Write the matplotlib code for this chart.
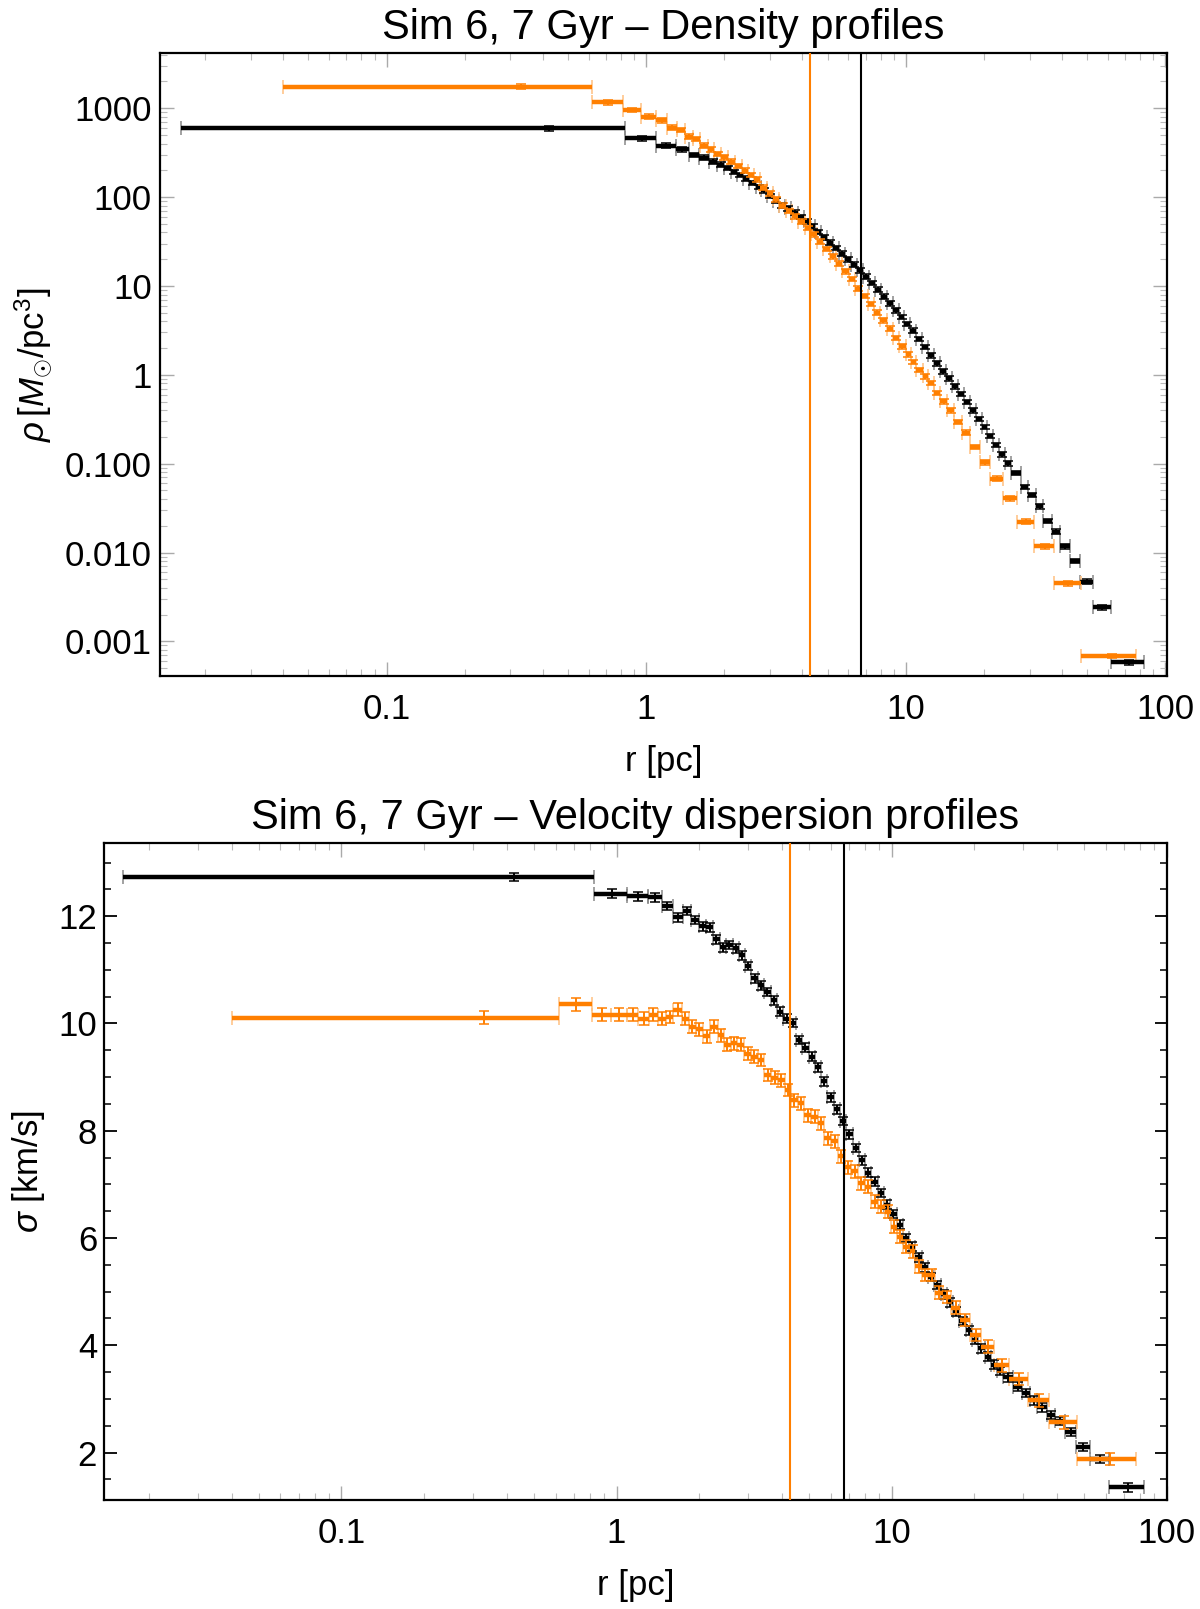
import numpy as np
import matplotlib
matplotlib.use('Agg')
import matplotlib.pyplot as plt
from matplotlib.ticker import FixedLocator, NullFormatter, LogLocator, MultipleLocator

plt.rcParams['font.family'] = ['Liberation Sans', 'DejaVu Sans']
plt.rcParams['mathtext.fontset'] = 'custom'
plt.rcParams['mathtext.rm'] = 'Liberation Sans'
plt.rcParams['mathtext.it'] = 'Liberation Sans:italic'
plt.rcParams['font.size'] = 25

ORANGE = '#ff7f00'

# bin edges in r [pc] (same binning for density and dispersion)
black_edges = [0.0161, 0.831, 1.092, 1.30, 1.458, 1.603, 1.74, 1.87, 2.0, 2.12, 2.24, 2.37,
               2.50, 2.64, 2.78, 2.93, 3.09, 3.26, 3.44, 3.63, 3.83, 4.04, 4.26, 4.49, 4.73,
               4.99, 5.26, 5.54, 5.84, 6.16, 6.49, 6.84, 7.21, 7.60, 8.01, 8.44, 8.90, 9.38,
               9.89, 10.42, 10.98, 11.58, 12.20, 12.86, 13.56, 14.29, 15.06, 15.88, 16.73,
               17.64, 18.59, 19.59, 20.65, 21.77, 22.95, 24.19, 25.50, 27.7, 29.7, 31.8,
               33.9, 36.7, 39.2, 42.8, 47.0, 52.6, 61.7, 83.0]
orange_edges = [0.040, 0.617, 0.812, 0.958, 1.092, 1.20, 1.31, 1.415, 1.51, 1.61, 1.725,
                1.83, 1.94, 2.06, 2.19, 2.33, 2.46, 2.60, 2.75, 2.91, 3.08, 3.26, 3.45, 3.65,
                3.86, 4.08, 4.31, 4.56, 4.82, 5.10, 5.39, 5.70, 6.03, 6.38, 6.75, 7.14, 7.55,
                7.98, 8.44, 8.93, 9.44, 9.98, 10.45, 10.96, 11.63, 12.2, 12.9, 13.55, 14.42,
                15.4, 16.5, 17.7, 19.3, 21.2, 23.6, 26.8, 31.3, 37.3, 47.3, 77.4]

# density [Msun/pc^3]
black_rho = [595, 460, 380, 346, 298, 278, 251, 232, 212, 192, 178, 161, 144, 130, 119, 103,
             91, 80, 75, 66.7, 59.7, 53.2, 47, 40.7, 35.4, 30.8, 26.7, 23.1, 20.0, 17.4, 15.0,
             12.7, 10.8, 9.1, 7.6, 6.4, 5.3, 4.47, 3.75, 3.15, 2.53, 2.05, 1.66, 1.35, 1.10,
             0.91, 0.745, 0.612, 0.495, 0.398, 0.320, 0.258, 0.205, 0.162, 0.128, 0.101,
             0.079, 0.055, 0.0445, 0.033, 0.0227, 0.0172, 0.0117, 0.00805, 0.00472, 0.00241,
             0.00058]
orange_rho = [1750, 1167, 958, 805, 727, 606, 571, 480, 449, 380, 346, 307, 281, 251, 225,
              198, 178, 158, 128, 110, 94, 80, 70, 61, 53, 45, 38, 31.5, 26, 21.5, 17.8, 14.6,
              12.0, 9.3, 7.7, 6.3, 5.0, 4.1, 3.3, 2.6, 2.1, 1.7, 1.40, 1.13, 0.96, 0.81, 0.628,
              0.505, 0.40, 0.296, 0.223, 0.155, 0.104, 0.0678, 0.0407, 0.0223, 0.0117,
              0.00449, 0.00069]

# velocity dispersion [km/s]
black_sig = [12.73, 12.42, 12.37, 12.35, 12.19, 11.98, 12.10, 11.93, 11.81, 11.79, 11.57,
             11.42, 11.46, 11.40, 11.27, 11.07, 10.84, 10.71, 10.59, 10.43, 10.22, 10.09,
             10.01, 9.69, 9.55, 9.38, 9.18, 8.92, 8.62, 8.40, 8.18, 7.93, 7.68, 7.45, 7.22,
             7.05, 6.84, 6.62, 6.45, 6.25, 6.00, 5.84, 5.64, 5.45, 5.27, 5.12, 4.95, 4.80,
             4.63, 4.45, 4.28, 4.10, 3.94, 3.79, 3.64, 3.52, 3.40, 3.23, 3.11, 2.97, 2.84,
             2.70, 2.59, 2.38, 2.10, 1.88, 1.35]
orange_sig = [10.11, 10.36, 10.16, 10.16, 10.16, 10.09, 10.16, 10.09, 10.12, 10.26, 10.09,
              9.94, 9.89, 9.76, 9.94, 9.78, 9.60, 9.63, 9.60, 9.44, 9.38, 9.32, 9.04, 8.99,
              8.94, 8.76, 8.57, 8.51, 8.29, 8.26, 8.14, 7.86, 7.80, 7.52, 7.32, 7.24, 7.02,
              6.96, 6.68, 6.58, 6.49, 6.21, 6.02, 5.84, 5.75, 5.47, 5.31, 5.31, 4.98, 4.90,
              4.70, 4.47, 4.19, 3.97, 3.63, 3.37, 2.97, 2.56, 1.88]

rho_rel_err = 0.06
black_sig_err = 0.08
orange_sig_err = 0.12

# half-mass radii (vertical lines)
r_orange = 4.29
r_black = 6.74


def draw_bins(ax, edges, vals, yerr, color, capcolor):
    edges = np.array(edges)
    vals = np.array(vals)
    lo, hi = edges[:-1], edges[1:]
    xc = 0.5 * (lo + hi)
    ax.plot(np.concatenate([lo, hi]), np.concatenate([vals, vals]), ls='none',
            marker='|', ms=10, mew=1.1, color=capcolor, zorder=2)
    ax.hlines(vals, lo, hi, color=color, lw=3.2, zorder=3)
    ax.errorbar(xc, vals, yerr=yerr, fmt='none', ecolor=color, elinewidth=1.4,
                capsize=3.5, capthick=1.1, zorder=3)


def style_axes(ax):
    for s in ax.spines.values():
        s.set_linewidth(1.6)
    ax.set_xscale('log')
    ax.xaxis.set_major_locator(FixedLocator([0.01, 0.1, 1, 10, 100]))
    ax.set_xticklabels(['0.01', '0.1', '1', '10', '100'])
    ax.xaxis.set_minor_locator(LogLocator(base=10, subs=np.arange(2, 10)))
    ax.xaxis.set_minor_formatter(NullFormatter())
    ax.tick_params(which='both', direction='in', top=True, right=True)
    ax.tick_params(axis='x', which='major', length=10, width=1, color='#aaaaaa', pad=12)
    ax.tick_params(axis='x', which='minor', length=5, width=0.8, color='#bbbbbb')
    ax.set_xlabel('r [pc]', labelpad=14)


fig = plt.figure(figsize=(12, 16.09), dpi=100)

# ---- density panel
ax1 = fig.add_axes([0.1333, 0.5799, 0.8392, 0.3870])
draw_bins(ax1, black_edges, black_rho, np.array(black_rho) * rho_rel_err, 'black', '#888888')
draw_bins(ax1, orange_edges, orange_rho, np.array(orange_rho) * rho_rel_err, ORANGE, '#ffc080')
ax1.axvline(r_orange, color=ORANGE, lw=1.5, zorder=4)
ax1.axvline(r_black, color='black', lw=1.5, zorder=4)
style_axes(ax1)
ax1.set_yscale('log')
ax1.yaxis.set_major_locator(FixedLocator([1e-3, 1e-2, 1e-1, 1, 10, 100, 1000]))
ax1.set_yticklabels(['0.001', '0.010', '0.100', '1', '10', '100', '1000'])
ax1.yaxis.set_minor_locator(LogLocator(base=10, subs=np.arange(2, 10)))
ax1.yaxis.set_minor_formatter(NullFormatter())
ax1.tick_params(axis='y', which='major', length=10, width=1, color='#aaaaaa', pad=6)
ax1.tick_params(axis='y', which='minor', length=5, width=0.8, color='#bbbbbb')
ax1.set_xlim(0.0134, 101.5)
ax1.set_ylim(0.000409, 4150)
ax1.set_ylabel(r'$\rho\,[M_{\odot}/\mathrm{pc}^{3}]$')
ax1.yaxis.set_label_coords(-0.105, 0.5)
ax1.set_title('Sim 6, 7 Gyr – Density profiles', pad=10)

# ---- velocity dispersion panel
ax2 = fig.add_axes([0.0867, 0.0676, 0.8858, 0.4083])
draw_bins(ax2, black_edges, black_sig, black_sig_err, 'black', '#888888')
draw_bins(ax2, orange_edges, orange_sig, orange_sig_err, ORANGE, '#ffc080')
ax2.axvline(r_orange, color=ORANGE, lw=1.5, zorder=4)
ax2.axvline(r_black, color='black', lw=1.5, zorder=4)
style_axes(ax2)
ax2.yaxis.set_major_locator(MultipleLocator(2))
ax2.yaxis.set_minor_locator(MultipleLocator(0.5))
ax2.tick_params(axis='y', which='major', length=9, width=1.3, color='black', pad=5)
ax2.tick_params(axis='y', which='minor', length=5, width=1.1, color='black')
ax2.set_xlim(0.0137, 100.3)
ax2.set_ylim(1.11, 13.36)
ax2.set_ylabel(r'$\sigma$ [km/s]')
ax2.yaxis.set_label_coords(-0.054, 0.5)
ax2.set_title('Sim 6, 7 Gyr – Velocity dispersion profiles', pad=10)

fig.savefig('out.png', dpi=100)
